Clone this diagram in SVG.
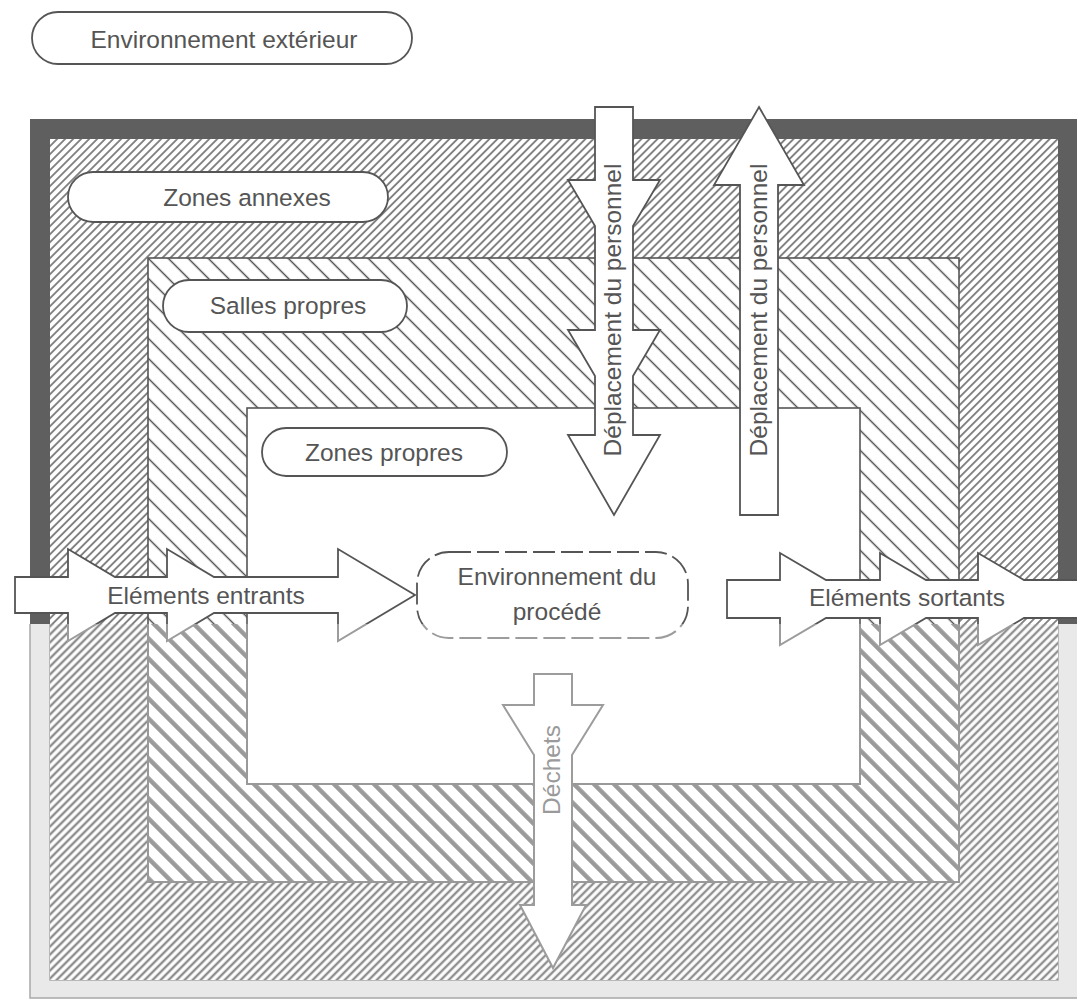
<svg xmlns="http://www.w3.org/2000/svg" xmlns:xlink="http://www.w3.org/1999/xlink" width="1077" height="1008" viewBox="0 0 1077 1008">
<style>
text{font-family:"Liberation Sans","DejaVu Sans",Arial,sans-serif;font-size:24.5px;fill:#555;text-anchor:middle}
.pill{fill:#fff;stroke:#555;stroke-width:1.8}
.top{stroke:#555;stroke-width:1.8;fill:#fff;stroke-linejoin:miter}
.bot{stroke:#9c9c9c;stroke-width:2;fill:#fff;stroke-linejoin:miter}
.faint{fill:#9a9a9a}
</style>
<defs>
<clipPath id="cTop"><rect x="0" y="0" width="1077" height="624"/></clipPath>
<clipPath id="cBot"><rect x="0" y="624" width="1077" height="384"/></clipPath>
<pattern id="hA" patternUnits="userSpaceOnUse" width="5.66" height="20" patternTransform="rotate(45)"><line x1="2.83" y1="-1" x2="2.83" y2="21" stroke="#555" stroke-width="1.4"/></pattern>
<pattern id="hA2" patternUnits="userSpaceOnUse" width="5.66" height="20" patternTransform="rotate(45)"><line x1="2.83" y1="-1" x2="2.83" y2="21" stroke="#8e8e8e" stroke-width="2.4"/></pattern>
<pattern id="hS" patternUnits="userSpaceOnUse" width="14.14" height="20" patternTransform="rotate(-45)"><line x1="7" y1="-1" x2="7" y2="21" stroke="#555" stroke-width="1.5"/></pattern>
<pattern id="hS2" patternUnits="userSpaceOnUse" width="14.14" height="20" patternTransform="rotate(-45)"><line x1="7" y1="-1" x2="7" y2="21" stroke="#9a9a9a" stroke-width="4.5"/></pattern>
<path id="pBorder" fill-rule="evenodd" d="M30,119 H1095 V998 H30 Z M50,139 V980 H1058 V139 Z"/>
<path id="pEntrants" d="M15,577 L68,577 L68,549 L115,577 L167,577 L167,549 L214,577 L338,577 L338,549 L415,595 L338,641 L338,613 L214,613 L167,641 L167,613 L115,613 L68,641 L68,613 L15,613 Z"/>
<path id="pSortants" d="M727,580 L780,580 L780,553 L826,580 L880,580 L880,553 L926,580 L978,580 L978,553 L1024,580 L1095,580 L1095,618 L1024,618 L978,645 L978,618 L926,618 L880,645 L880,618 L826,618 L780,645 L780,618 L727,618 Z"/>
<rect id="rSalles" x="148" y="258" width="811" height="624"/>
<rect id="rProcede" x="417" y="552" width="271" height="86" rx="32"/>
</defs>

<g id="batiment">
<use xlink:href="#pBorder" fill="#5f5f5f" clip-path="url(#cTop)"/>
<use xlink:href="#pBorder" fill="#e9e9e9" stroke="#a8a8a8" stroke-width="1.5" clip-path="url(#cBot)"/>
</g>

<g id="zones-annexes">
<rect x="50" y="139" width="1008" height="841" fill="#fff"/>
<rect x="50" y="139" width="1008" height="841" fill="url(#hA)" clip-path="url(#cTop)"/>
<rect x="50" y="139" width="1008" height="841" fill="url(#hA2)" clip-path="url(#cBot)"/>
<rect class="pill" x="68" y="172" width="320" height="50" rx="25"/>
<text x="247" y="206">Zones annexes</text>
</g>

<g id="salles-propres">
<use xlink:href="#rSalles" fill="#fff"/>
<use xlink:href="#rSalles" fill="url(#hS)" stroke="#555" stroke-width="1.6" clip-path="url(#cTop)"/>
<use xlink:href="#rSalles" fill="url(#hS2)" stroke="#999" stroke-width="2" clip-path="url(#cBot)"/>
<rect class="pill" x="163" y="280" width="244" height="52" rx="26"/>
<text x="288" y="314">Salles propres</text>
</g>

<g id="zones-propres">
<rect x="247" y="408" width="613" height="376" fill="#fff" stroke="#555" stroke-width="1.6" clip-path="url(#cTop)"/>
<rect x="247" y="408" width="613" height="376" fill="#fff" stroke="#999" stroke-width="2" clip-path="url(#cBot)"/>
<rect class="pill" x="262" y="428" width="245" height="48" rx="24"/>
<text x="384" y="461">Zones propres</text>
</g>

<g id="environnement-exterieur">
<rect class="pill" x="32" y="12" width="380" height="52" rx="26"/>
<text x="224" y="48">Environnement extérieur</text>
</g>

<g id="connecteurs">
<g id="elements-entrants">
<use xlink:href="#pEntrants" class="top" clip-path="url(#cTop)"/>
<use xlink:href="#pEntrants" class="bot" clip-path="url(#cBot)"/>
<text x="206" y="604">Eléments entrants</text>
</g>
<g id="elements-sortants">
<use xlink:href="#pSortants" class="top" clip-path="url(#cTop)"/>
<use xlink:href="#pSortants" class="bot" clip-path="url(#cBot)"/>
<text x="907" y="606">Eléments sortants</text>
</g>
<g id="deplacement-entree">
<path class="top" d="M595,107 L633,107 L633,180 L660,180 L633,226 L633,330 L660,330 L633,376 L633,435 L660,435 L614,515 L568,435 L595,435 L595,376 L568,330 L595,330 L595,226 L568,180 L595,180 Z"/>
<text transform="translate(621,310) rotate(-90)">Déplacement du personnel</text>
</g>
<g id="deplacement-sortie">
<path class="top" d="M740,515 L740,185 L714,185 L759,107 L804,185 L778,185 L778,515 Z"/>
<text transform="translate(767,310) rotate(-90)">Déplacement du personnel</text>
</g>
<g id="dechets">
<path class="bot" d="M534,674 L572,674 L572,705 L603,705 L572,755 L572,905 L586,905 L553,968 L520,905 L534,905 L534,755 L503,705 L534,705 Z"/>
<text class="faint" transform="translate(560,770) rotate(-90)">Déchets</text>
</g>
</g>

<g id="environnement-procede">
<use xlink:href="#rProcede" fill="#fff" stroke="#555" stroke-width="1.8" stroke-dasharray="22 6" clip-path="url(#cTop)"/>
<use xlink:href="#rProcede" fill="#fff" stroke="#9c9c9c" stroke-width="2" stroke-dasharray="22 6" clip-path="url(#cBot)"/>
<text x="557" y="585">Environnement du</text>
<text x="557" y="620">procédé</text>
</g>
</svg>
